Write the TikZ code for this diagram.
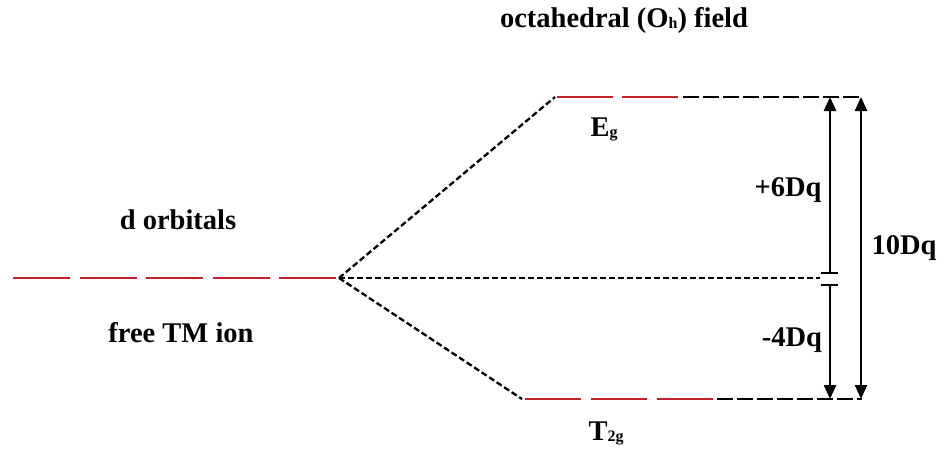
\documentclass[tikz,border=0pt]{standalone}
\usepackage{fontspec}
\setmainfont{Liberation Serif}
\usetikzlibrary{arrows.meta}
\definecolor{lvlred}{RGB}{196,34,40}
\newcommand{\sbs}[1]{\raisebox{-1pt}{\fontsize{16}{16}\selectfont #1}}
\tikzset{
  lbl/.style={font=\fontsize{28.5}{32}\selectfont\bfseries, inner sep=0pt},
  redlvl/.style={draw=lvlred, line width=2.8pt},
  blklvl/.style={draw=black, line width=2.6pt, dash pattern=on 16pt off 4pt},
  conn/.style={draw=black, line width=2.3pt, dash pattern=on 6pt off 3pt},
  gaparrow/.style={draw=black, line width=2.4pt, -{Triangle[length=14pt,width=12pt]}},
  barline/.style={draw=black, line width=2.4pt}
}
\begin{document}
\begin{tikzpicture}[x=1pt,y=-1pt]
\useasboundingbox (0,0) rectangle (944,450);
% coordinates
\coordinate (fs) at (13,278);
\coordinate (sp) at (339,278);
\coordinate (egL) at (555,97);
\coordinate (egR) at (678,97);
\coordinate (egE) at (862,97);
\coordinate (tL) at (522,399);
\coordinate (tR) at (713,399);
\coordinate (tE) at (862,399);
\coordinate (mid) at (820,278);
\coordinate (iT) at (830,97);
\coordinate (iB) at (830,399);
\coordinate (b1) at (830,273);
\coordinate (b2) at (830,285);
\coordinate (oT) at (861,97);
\coordinate (oB) at (861,399);
% free ion level
\draw[redlvl, dash pattern=on 57pt off 9.5pt] (fs) -- (sp);
% connectors
\draw[conn] (sp) -- (egL);
\draw[conn] (sp) -- (tL);
\draw[conn] (sp) -- (mid);
% Eg level
\draw[redlvl, dash pattern=on 56pt off 9pt] ([xshift=2pt]egL) -- (egR);
\draw[blklvl] ([xshift=5pt]egR) -- (egE);
% T2g level
\draw[redlvl, dash pattern=on 56pt off 10pt] ([xshift=3pt]tL) -- (tR);
\draw[blklvl] ([xshift=4pt]tR) -- (tE);
% inner arrows
\draw[gaparrow] (b1) -- (iT);
\draw[gaparrow] (b2) -- (iB);
\draw[barline] ([xshift=-9pt]b1) -- ([xshift=8pt]b1);
\draw[barline] ([xshift=-9pt]b2) -- ([xshift=8pt]b2);
% outer arrow
\draw[gaparrow, {Triangle[length=14pt,width=12pt]}-{Triangle[length=14pt,width=12pt]}] (oT) -- (oB);
% labels
\node[lbl] (title) at (624,20) {octahedral (O\sbs{h}) field};
\node[lbl] (eg) at (604,129) {E\sbs{g}};
\node[lbl] (six) at (788,190) {+6Dq};
\node[lbl] (ten) at (904,248) {10Dq};
\node[lbl] (four) at (792,340) {-4Dq};
\node[lbl] (dorb) at (178,220) {d orbitals};
\node[lbl] (free) at (181,333) {free TM ion};
\node[lbl] (t2g) at (606,433) {T\sbs{2g}};
\end{tikzpicture}
\end{document}
